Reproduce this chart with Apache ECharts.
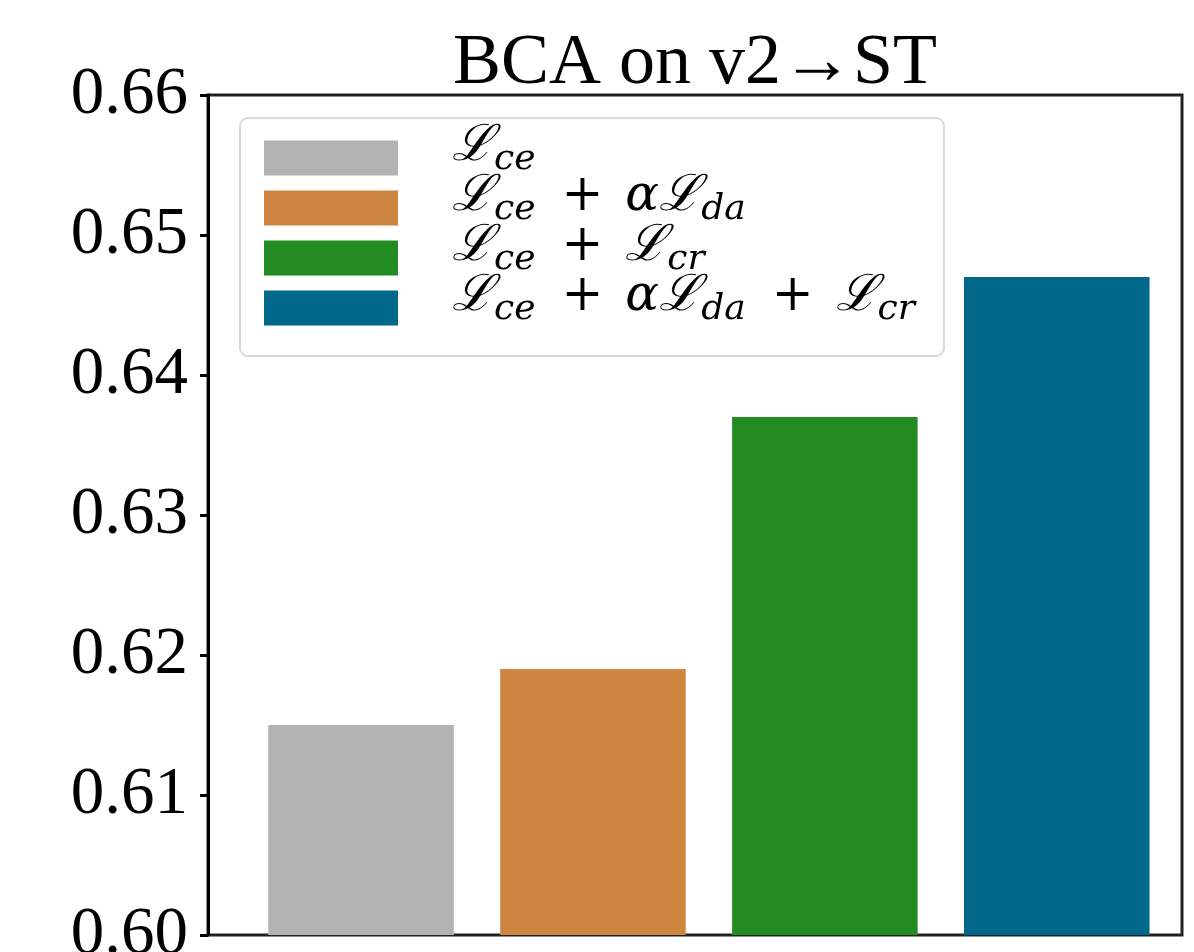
<!DOCTYPE html>
<html>
<head>
<meta charset="utf-8">
<script src="https://cdn.jsdelivr.net/npm/echarts@6/dist/echarts.min.js"></script>
<style>html,body{margin:0;padding:0;background:#fff;}#c{width:1194px;height:952px;}</style>
</head>
<body>
<div id="c"></div>
<script>
// ---- data ----
var titleText = 'BCA on v2\u2192ST';
var seriesNames = ['Lce', 'Lce+aLda', 'Lce+Lcr', 'Lce+aLda+Lcr'];
var positions = [0, 1, 2, 3];
var values = [0.615, 0.619, 0.637, 0.647];
var colors = ['#b3b3b3', '#cd853f', '#228b22', '#00688b'];
var legendRich = [
  '{L|\u2112}{s|ce}',
  '{L|\u2112}{s|ce}{p|+}{a|\u03b1}{L|\u2112}{s|da}',
  '{L|\u2112}{s|ce}{p|+}{L|\u2112}{s|cr}',
  '{L|\u2112}{s|ce}{p|+}{a|\u03b1}{L|\u2112}{s|da}{p|+}{L|\u2112}{s|cr}'
];
var yMin = 0.60, yMax = 0.66, yStep = 0.01;

var chart = echarts.init(document.getElementById('c'));
var series = seriesNames.map(function (n, i) {
  return {
    name: n,
    type: 'bar',
    data: [[positions[i], values[i]]],
    barWidth: '80%',
    barGap: '-100%',
    itemStyle: { color: colors[i] },
    emphasis: { disabled: true }
  };
});
var mathFont = 'DejaVu Serif';
chart.setOption({
  animation: false,
  backgroundColor: '#fff',
  title: {
    text: titleText,
    left: 690,
    top: 23,
    textAlign: 'center',
    textStyle: { fontFamily: 'Liberation Serif', fontWeight: 'normal', fontSize: 72, color: '#000' }
  },
  grid: {
    left: 208, right: 12, top: 95, bottom: 17,
    outerBoundsMode: 'none',
    containLabel: false,
    show: true, borderColor: '#222', borderWidth: 3, backgroundColor: '#fff'
  },
  legend: {
    orient: 'vertical',
    left: 240, top: 118,
    padding: [4, 25, 28, 24],
    backgroundColor: '#fff',
    borderColor: '#d9d9d9', borderWidth: 2, borderRadius: 8,
    itemWidth: 134, itemHeight: 35, itemGap: -6,
    icon: 'rect',
    data: seriesNames,
    formatter: function (name) { return legendRich[seriesNames.indexOf(name)]; },
    textStyle: {
      padding: [0, 0, 0, 49],
      rich: {
        L: { fontFamily: mathFont, fontStyle: 'italic', fontSize: 50, color: '#000', verticalAlign: 'bottom', padding: [0, 0, 6, 0], lineHeight: 40 },
        a: { fontFamily: mathFont, fontStyle: 'italic', fontSize: 50, color: '#000', verticalAlign: 'bottom', padding: [0, 0, 6, 0], lineHeight: 40 },
        p: { fontFamily: mathFont, fontSize: 50, color: '#000', verticalAlign: 'bottom', padding: [0, 22, 6, 22], lineHeight: 40 },
        s: { fontFamily: mathFont, fontStyle: 'italic', fontSize: 36, color: '#000', verticalAlign: 'bottom', padding: [0, 4, 0, 0], lineHeight: 28 }
      }
    }
  },
  xAxis: {
    type: 'value', min: -0.66, max: 3.54,
    axisLine: { show: false, onZero: false }, axisTick: { show: false }, axisLabel: { show: false }, splitLine: { show: false }
  },
  yAxis: {
    type: 'value', min: yMin, max: yMax, interval: yStep,
    axisLine: { show: true, onZero: false, lineStyle: { color: '#000', width: 3 } },
    axisTick: { show: true, length: 8, lineStyle: { color: '#000', width: 3 } },
    axisLabel: {
      fontFamily: 'Liberation Serif', fontSize: 67, color: '#000', margin: 20,
      formatter: function (v) { return v.toFixed(2); }
    },
    splitLine: { show: false }
  },
  series: series
});
</script>
</body>
</html>
